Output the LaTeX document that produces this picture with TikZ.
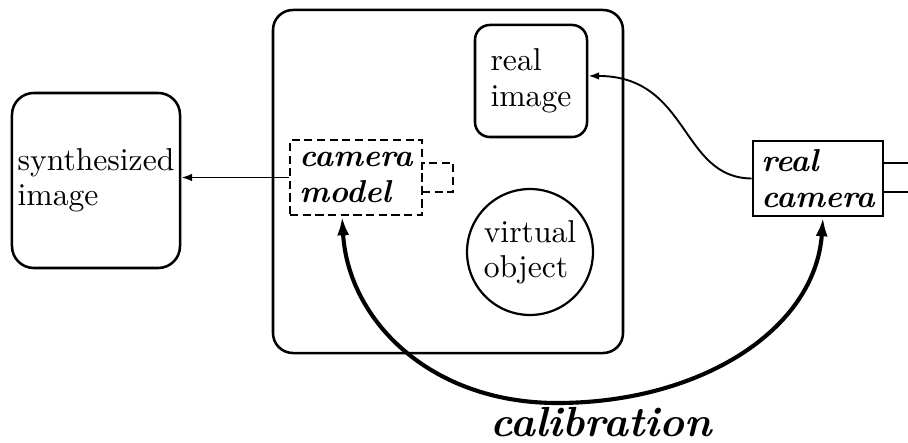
\documentclass[tikz,border=0pt]{standalone}
\usetikzlibrary{arrows.meta}
\begin{document}
\begin{tikzpicture}[x=0.316pt,y=-0.316pt,
  box/.style={draw, line width=0.8pt, inner sep=0pt},
  rbox/.style={box, rounded corners=#1},
  dbox/.style={box, dash pattern=on 2.6pt off 1.4pt},
  lbl/.style={font=\fontsize{10}{11.2}\selectfont, align=left},
  blbl/.style={font=\fontsize{10}{11.6}\selectfont\bfseries\itshape, align=left},
  thinarrow/.style={line width=0.6pt, -{Latex[length=3.4pt,width=2.4pt]}},
  calarrow/.style={line width=1.3pt, {Latex[length=6pt,width=3.8pt]}-{Latex[length=6pt,width=3.8pt]}}]
\useasboundingbox (0,0) rectangle (908,443);

% the scene container
\node[rbox=6.3pt, minimum width=110.6pt, minimum height=108.4pt] (world) at (448,181.5) {};

% images and objects
\node[rbox=6.9pt, minimum width=53.1pt, minimum height=55.3pt, lbl] (synth) at (96,180.5) {synthesized\\image};
\node[rbox=4.7pt, minimum width=35.4pt, minimum height=35.4pt, lbl] (rimg) at (531,81) {real\\image};
\node[draw, circle, line width=0.7pt, inner sep=0pt, minimum size=39.8pt, lbl] (vobj) at (530,252) {virtual\\object};

% cameras
\node[dbox, minimum width=41.7pt, minimum height=23.7pt, blbl] (cm) at (356,177.5) {camera\\model};
\node[dbox, minimum width=9.8pt, minimum height=9.2pt] (port) at (437.5,177.5) {};
\node[box, minimum width=41.1pt, minimum height=23.7pt, blbl] (rcam) at (818,178.5) {real\\camera};

\node[font=\fontsize{13.3}{16}\selectfont\bfseries\itshape, anchor=base] (calib) at (601,437) {calibration};

% connectors
\draw[thinarrow] (cm.west) -- (cm.west -| synth.east);
\coordinate (rimgin) at ([yshift=1.6pt]rimg.east);
\draw[thinarrow] (rcam.west) .. controls (680,178) and (690,76) .. (rimgin);

\coordinate (outA) at (908,163);
\coordinate (outB) at (908,192);
\draw[line width=0.6pt] (rcam.east |- outA) -- (outA);
\draw[line width=0.6pt] (rcam.east |- outB) -- (outB);

\coordinate (low) at (557,403);
\draw[calarrow] ([xshift=-4.4pt]cm.south) .. controls (348,320) and (430,403) .. (low)
  .. controls (700,403) and (815,330) .. ([xshift=1.6pt]rcam.south);
\end{tikzpicture}
\end{document}
